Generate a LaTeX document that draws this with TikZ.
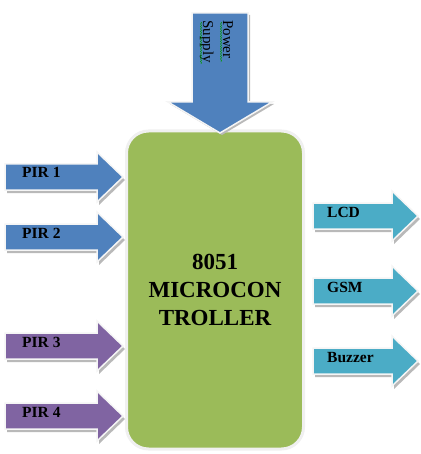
\documentclass[tikz,border=0pt]{standalone}
\usepackage{fontspec}
\setmainfont{Liberation Serif}
\usetikzlibrary{decorations.pathmorphing}

\definecolor{mcugreen}{HTML}{9BBB59}
\definecolor{pirblue}{HTML}{4F81BD}
\definecolor{pirpurple}{HTML}{8064A2}
\definecolor{outaqua}{HTML}{4BACC6}

\tikzset{
  mcu/.style={draw=gray!12, line width=3pt, fill=mcugreen, rounded corners=22pt,
    minimum width=177pt, minimum height=318pt, align=center,
    font=\bfseries\fontsize{23}{28}\selectfont},
  lbl/.style={font=\bfseries\fontsize{15.5}{18}\selectfont, inner sep=0pt, anchor=base west},
  vlbl/.style={font=\fontsize{15}{18}\selectfont, inner sep=0pt, rotate=-90, anchor=base west},
  arrshadow/.style={fill=gray!55},
  arrbody/.style={draw=gray!8, line width=1.5pt},
  squiggle/.style={green!60!black, line width=0.5pt, decorate,
    decoration={snake, amplitude=0.6pt, segment length=2.5pt}}
}

% block arrow: start x, head x, tip x, centre y, colour
\newcommand{\harrow}[5]{%
  \fill[arrshadow, shift={(2,3)}] (#1,{#4-13}) -- (#2,{#4-13}) -- (#2,{#4-25}) -- (#3,#4)
    -- (#2,{#4+25}) -- (#2,{#4+13}) -- (#1,{#4+13}) -- cycle;
  \filldraw[arrbody, fill=#5] (#1,{#4-13}) -- (#2,{#4-13}) -- (#2,{#4-25}) -- (#3,#4)
    -- (#2,{#4+25}) -- (#2,{#4+13}) -- (#1,{#4+13}) -- cycle;
}

\begin{document}
\begin{tikzpicture}[x=1pt, y=-1pt]
  \useasboundingbox (0,0) rectangle (420,454);

  % controller
  \node[mcu] (mcu) at (215,290) {8051\\MICROCON\\TROLLER};

  % power supply arrow
  \fill[arrshadow, shift={(2,2)}] (192,13) -- (248,13) -- (248,102) -- (272,102)
    -- (220,133) -- (168,102) -- (192,102) -- cycle;
  \filldraw[arrbody, fill=pirblue] (192,13) -- (248,13) -- (248,102) -- (272,102)
    -- (220,133) -- (168,102) -- (192,102) -- cycle;
  \node[vlbl] (power) at (223,20) {Power};
  \node[vlbl] (supply) at (203,20) {Supply};
  \draw[squiggle] (221,22) -- (221,62);
  \draw[squiggle] (201,22) -- (201,64);

  % sensors
  \harrow{5}{97}{123}{177}{pirblue}
  \harrow{5}{97}{123}{237}{pirblue}
  \harrow{5}{97}{123}{346}{pirpurple}
  \harrow{5}{97}{123}{416}{pirpurple}
  \node[lbl] (pir1) at (22,178) {PIR 1};
  \node[lbl] (pir2) at (22,238) {PIR 2};
  \node[lbl] (pir3) at (22,347) {PIR 3};
  \node[lbl] (pir4) at (22,417) {PIR 4};

  % outputs
  \harrow{313}{392}{418}{216}{outaqua}
  \harrow{313}{392}{418}{291}{outaqua}
  \harrow{313}{392}{418}{361}{outaqua}
  \node[lbl] (lcd) at (327,217) {LCD};
  \node[lbl] (gsm) at (327,292) {GSM};
  \node[lbl] (buzzer) at (327,362) {Buzzer};
\end{tikzpicture}
\end{document}
